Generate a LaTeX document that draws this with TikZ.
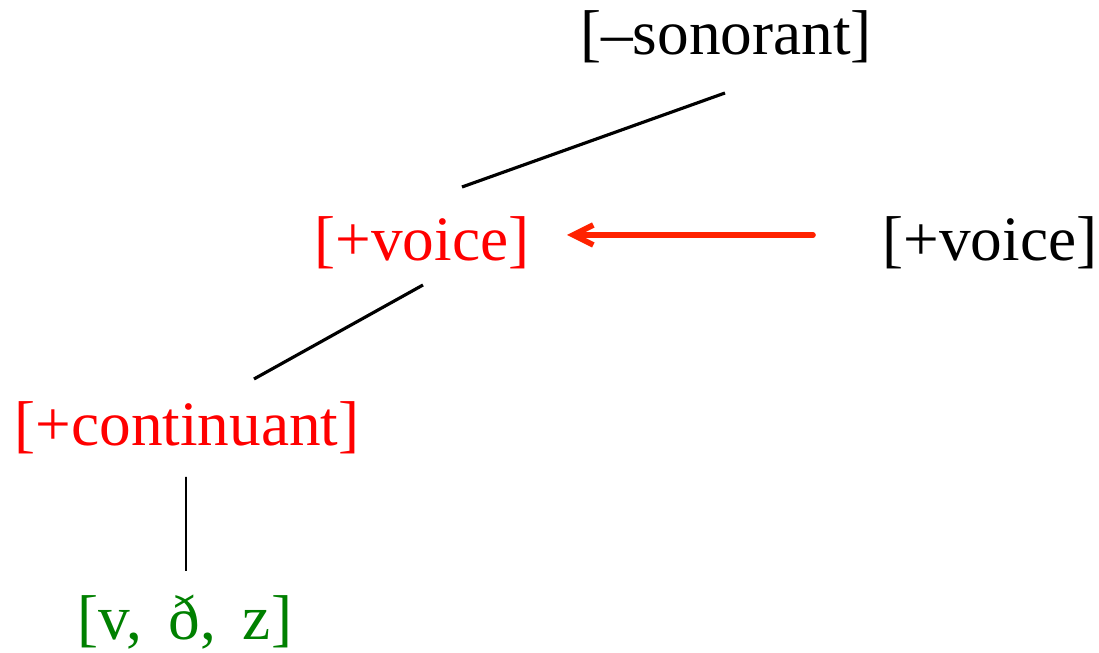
\documentclass[tikz,border=0pt]{standalone}
\usepackage{fontspec}
\setmainfont{Liberation Serif}
\usepackage{tikz}
\usetikzlibrary{arrows.meta}

\definecolor{featred}{RGB}{255,0,0}
\definecolor{arrred}{RGB}{255,34,0}
\definecolor{seggreen}{RGB}{0,128,0}

\begin{document}
\begin{tikzpicture}[>={Straight Barb[length=2.0mm,width=2.0mm]},
  feat/.style={inner sep=0pt, font=\fontsize{18}{22}\selectfont},
  branch/.style={line width=0.9pt}]

\useasboundingbox (0,0) rectangle (10.99,-6.53);

%% ---- feature nodes -------------------------
\node[feat] (son) at (7.26,-0.37) {[–sonorant]};
\node[feat, text=featred] (voice) at (4.22,-2.43) {[+voice]};
\node[feat] (spread) at (9.90,-2.43) {[+voice]};
\node[feat, text=featred] (cont) at (1.87,-4.28) {[+continuant]};
\node[feat, text=seggreen] (seg) at (1.85,-6.22)
  {[v,\hspace{0.42em}ð,\hspace{0.42em}z]};

%% ---- association lines -------------------------
\draw[branch] ([shift={(-0.01,-0.56)}]son.center)
  -- ([shift={(0.40,0.56)}]voice.center);
\draw[branch] ([shift={(0.01,-0.42)}]voice.center)
  -- ([shift={(0.67,0.49)}]cont.center);
\draw[line width=0.45pt] ([shift={(-0.01,-0.49)}]cont.center)
  -- ([shift={(0.01,0.51)}]seg.center);

% spreading arrow
\draw[->, arrred, line width=1.6pt, line cap=round]
  ([shift={(-1.77,0.08)}]spread.center) -- ([shift={(1.45,0.08)}]voice.center);

\end{tikzpicture}
\end{document}
